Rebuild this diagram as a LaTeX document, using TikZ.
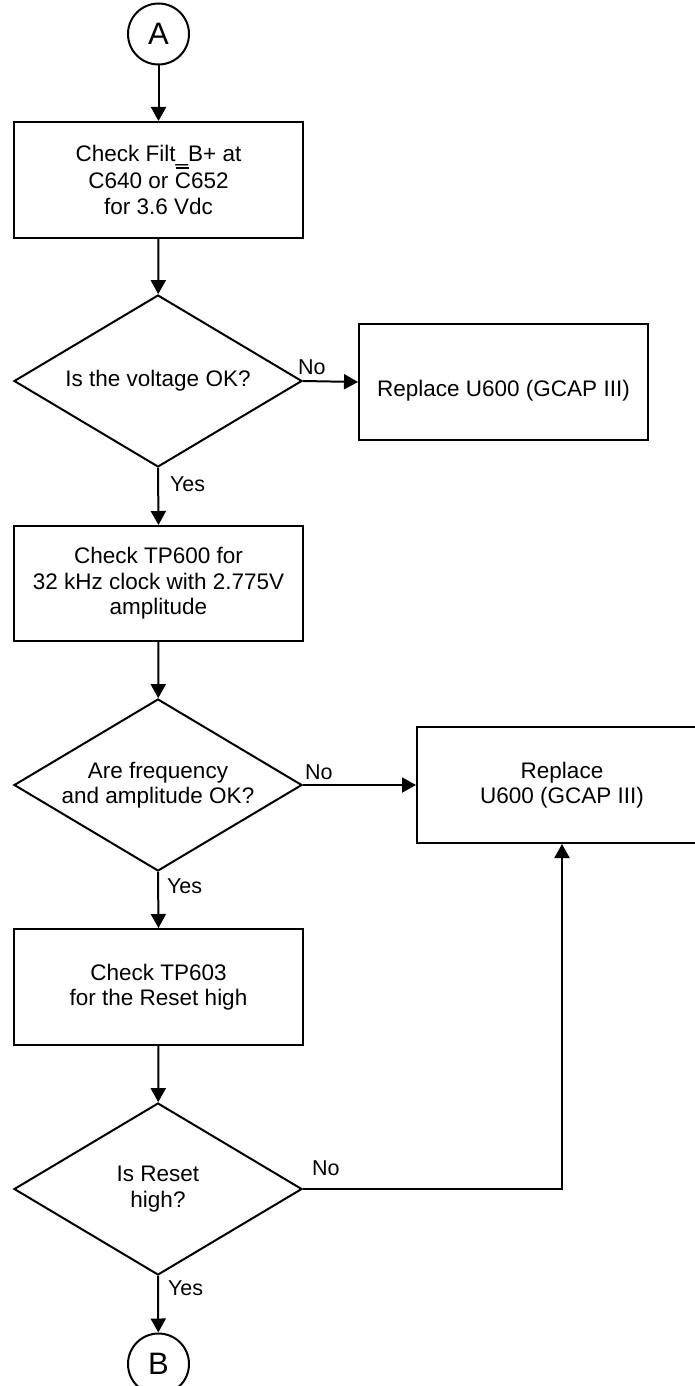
\documentclass[tikz,border=0pt]{standalone}
\usepackage{fontspec}
\setmainfont{Liberation Sans}
\usetikzlibrary{shapes.geometric,arrows.meta,positioning,calc}
\tikzset{
  every node/.style={font=\fontsize{22.5}{25.5}\selectfont},
  conn/.style={draw, circle, line width=2pt, minimum size=61pt, inner sep=0pt, font=\fontsize{31}{34}\selectfont},
  procbox/.style={draw, rectangle, line width=2pt, minimum width=289pt, minimum height=116pt, inner sep=0pt, align=center},
  decision/.style={draw, diamond, line width=2pt, minimum width=288pt, minimum height=172pt, inner sep=0pt},
  arr/.style={line width=2pt, -{Triangle[length=14pt,width=15pt]}},
  lbl/.style={inner sep=0pt, anchor=west, font=\fontsize{21.5}{24}\selectfont}
}
\begin{document}
\begin{tikzpicture}[x=1pt,y=-1pt]
\clip (0,0) rectangle (695,1386);
\fill[white] (0,0) rectangle (695,1386);

\node[conn] (A) at (158.5,34) {A};
\node[procbox] (b1) at (158.5,180) {Check Filt\_B+ at\\C640 or \makebox[0pt][l]{\hspace{0.05em}\raisebox{0.9em}{\rule{0.6em}{0.06em}}}C652\\for 3.6 Vdc};
\node[decision] (d1) at (158,381) {};
\node[align=center] (d1t) at (d1.center) {Is the voltage OK?};
\node[procbox] (r1) at (503.5,382) {};
\node (r1t) at ($(r1.center)+(0,9)$) {Replace U600 (GCAP III)};
\node[procbox, minimum height=115pt] (b2) at (158.5,583.5) {Check TP600 for\\32 kHz clock with 2.775V\\amplitude};
\node[decision] (d2) at (158,785) {};
\node[align=center] (d2t) at (d2.center) {Are frequency\\and amplitude OK?};
\node[procbox, minimum width=290pt] (r2) at (562,785) {Replace\\U600 (GCAP III)};
\node[procbox] (b3) at (158.5,987) {Check TP603\\for the Reset high};
\node[decision] (d3) at (158,1189) {};
\node[align=center] (d3t) at (d3.center) {Is Reset\\high?};
\node[conn] (B) at (158.5,1364) {B};

\draw[arr] (A) -- (b1);
\draw[arr] (b1) -- (d1);
\draw[arr] (d1.east) -- node[lbl, pos=0, xshift=-6pt, yshift=14pt] {No} (r1.west);
\draw[arr] (d1.south) -- node[lbl, pos=0, xshift=11pt, yshift=-16pt] {Yes} (b2.north);
\draw[arr] (b2) -- (d2);
\draw[arr] (d2.east) -- node[lbl, pos=0, xshift=1pt, yshift=13pt] {No} (r2.west);
\draw[arr] (d2.south) -- node[lbl, pos=0, xshift=8pt, yshift=-14pt] {Yes} (b3.north);
\draw[arr] (b3) -- (d3);
\draw[arr] (d3.east) -| node[lbl, pos=0, xshift=8pt, yshift=21pt] {No} (r2.south);
\draw[arr] (d3.south) -- node[lbl, pos=0, xshift=9pt, yshift=-12pt] {Yes} (B);
\end{tikzpicture}
\end{document}
